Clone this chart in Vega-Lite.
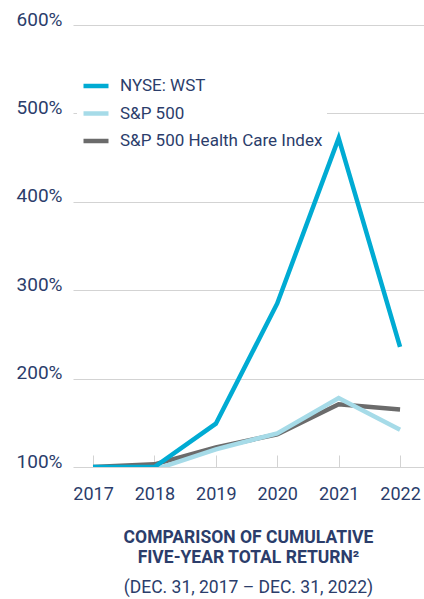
{
  "$schema": "https://vega.github.io/schema/vega-lite/v6.json",
  "width": 351,
  "height": 442,
  "autosize": {"type": "none"},
  "padding": {"left": 73, "top": 25, "right": 0, "bottom": 132},
  "background": "white",
  "config": {
    "view": {"stroke": null},
    "font": "Roboto, sans-serif"
  },
  "title": {
    "text": ["COMPARISON OF CUMULATIVE", "FIVE-YEAR TOTAL RETURN²"],
    "subtitle": "(DEC. 31, 2017 – DEC. 31, 2022)",
    "orient": "bottom",
    "anchor": "middle",
    "fontSize": 17.5,
    "fontWeight": "bold",
    "color": "#2b3d6b",
    "lineHeight": 20,
    "subtitleFontSize": 17.5,
    "subtitleFontWeight": "normal",
    "subtitleColor": "#2b3d6b",
    "subtitleLineHeight": 20,
    "subtitlePadding": 12,
    "offset": 26
  },
  "data": {
    "values": [
      {"series": "S&P 500 Health Care Index", "year": 2017, "value": 100},
      {"series": "S&P 500 Health Care Index", "year": 2018, "value": 103},
      {"series": "S&P 500 Health Care Index", "year": 2019, "value": 122},
      {"series": "S&P 500 Health Care Index", "year": 2020, "value": 137},
      {"series": "S&P 500 Health Care Index", "year": 2021, "value": 171},
      {"series": "S&P 500 Health Care Index", "year": 2022, "value": 165},
      {"series": "S&P 500", "year": 2017, "value": 100},
      {"series": "S&P 500", "year": 2018, "value": 97},
      {"series": "S&P 500", "year": 2019, "value": 120},
      {"series": "S&P 500", "year": 2020, "value": 138},
      {"series": "S&P 500", "year": 2021, "value": 178},
      {"series": "S&P 500", "year": 2022, "value": 142},
      {"series": "NYSE: WST", "year": 2017, "value": 100},
      {"series": "NYSE: WST", "year": 2018, "value": 100},
      {"series": "NYSE: WST", "year": 2019, "value": 149},
      {"series": "NYSE: WST", "year": 2020, "value": 285},
      {"series": "NYSE: WST", "year": 2021, "value": 472},
      {"series": "NYSE: WST", "year": 2022, "value": 236}
    ]
  },
  "mark": {"type": "line", "strokeWidth": 4.5, "clip": true},
  "encoding": {
    "x": {
      "field": "year",
      "type": "quantitative",
      "scale": {"domain": [2016.674, 2022.39], "nice": false, "zero": false},
      "axis": {
        "values": [2017, 2018, 2019, 2020, 2021, 2022],
        "format": "d",
        "grid": false,
        "domain": false,
        "ticks": true,
        "tickSize": -12,
        "tickColor": "#d3d3d3",
        "labelPadding": 30,
        "labelFontSize": 18,
        "labelColor": "#2b3d6b",
        "title": null
      }
    },
    "y": {
      "field": "value",
      "type": "quantitative",
      "scale": {"domain": [100, 600], "nice": false, "zero": false},
      "axis": {
        "values": [100, 200, 300, 400, 500, 600],
        "labelExpr": "datum.value + '%'",
        "grid": true,
        "gridColor": "#d3d3d3",
        "domain": false,
        "ticks": false,
        "labelPadding": 11,
        "labelFontSize": 19,
        "labelColor": "#2b3d6b",
        "labelBaseline": "alphabetic",
        "title": null
      }
    },
    "color": {
      "field": "series",
      "type": "nominal",
      "scale": {
        "domain": ["NYSE: WST", "S&P 500", "S&P 500 Health Care Index"],
        "range": ["#00abd3", "#a6dbe8", "#6b6b6b"]
      },
      "legend": {
        "orient": "none",
        "legendX": 4,
        "legendY": 42,
        "title": null,
        "symbolType": "stroke",
        "symbolSize": 625,
        "symbolStrokeWidth": 4.5,
        "labelFontSize": 17,
        "labelColor": "#2b3d6b",
        "labelOffset": 9,
        "rowPadding": 3.5,
        "fillColor": "white",
        "padding": 4,
        "labelLimit": 400
      }
    }
  }
}
